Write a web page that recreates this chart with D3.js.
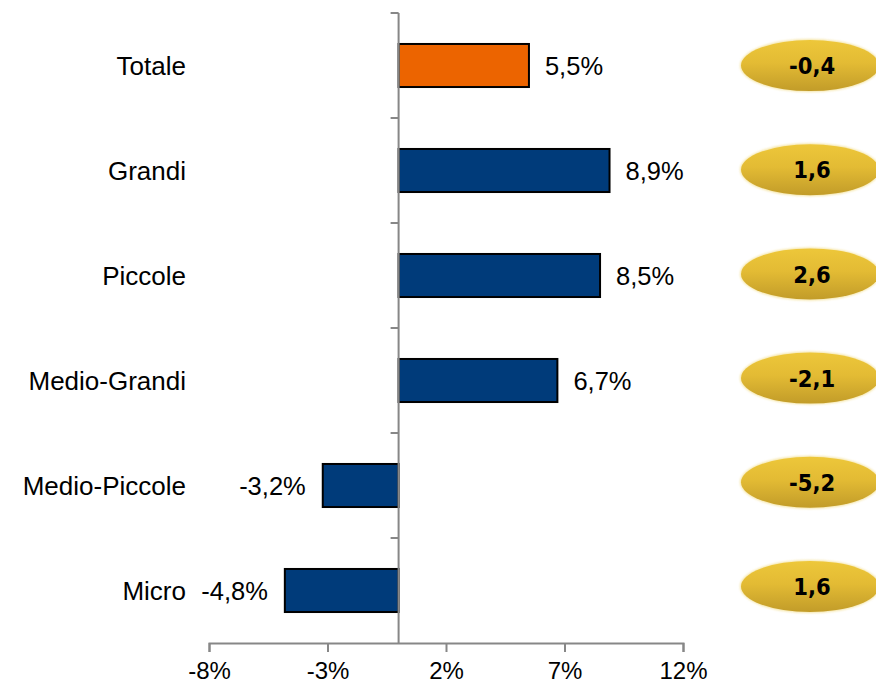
<!DOCTYPE html>
<html>
<head>
<meta charset="utf-8">
<script src="https://cdn.jsdelivr.net/npm/d3@7"></script>
<style>
  html, body { margin: 0; padding: 0; background: #fff; }
  svg { display: block; }
</style>
</head>
<body>
<svg id="chart" width="876" height="686"></svg>
<script>
const categories = ["Totale", "Grandi", "Piccole", "Medio-Grandi", "Medio-Piccole", "Micro"];
const values = [5.5, 8.9, 8.5, 6.7, -3.2, -4.8];
const changes = ["-0,4", "1,6", "2,6", "-2,1", "-5,2", "1,6"];
const xTicks = [-8, -3, 2, 7, 12];
const highlight = "Totale";

const svg = d3.select("#chart");

const x = d3.scaleLinear().domain([-8, 12]).range([209, 683]);
const y = d3.scaleBand().domain(categories).range([13, 643]).paddingInner(0.59).paddingOuter(0.295);
const yE = d3.scaleBand().domain(categories).range([13.5, 638.5]);

const fmt = v => d3.format(".1f")(v).replace(".", ",").replace("\u2212", "-") + "%";

const defs = svg.append("defs");
const g1 = defs.append("linearGradient").attr("id", "gold").attr("x1", 0).attr("y1", 0).attr("x2", 0).attr("y2", 1);
g1.append("stop").attr("offset", "0%").attr("stop-color", "#EDC73A");
g1.append("stop").attr("offset", "45%").attr("stop-color", "#E3BB34");
g1.append("stop").attr("offset", "100%").attr("stop-color", "#C29C29");
const f = defs.append("filter").attr("id", "soft").attr("x", "-10%").attr("y", "-20%").attr("width", "120%").attr("height", "140%");
f.append("feGaussianBlur").attr("stdDeviation", 0.8);

const axisColor = "#878787";
const font = "Liberation Sans, Arial, sans-serif";

// bars
svg.append("g").selectAll("rect").data(categories).join("rect")
  .attr("x", (d, i) => x(Math.min(0, values[i])))
  .attr("y", d => y(d))
  .attr("width", (d, i) => Math.abs(x(values[i]) - x(0)))
  .attr("height", y.bandwidth())
  .attr("fill", d => d === highlight ? "#EC6400" : "#003B7A")
  .attr("stroke", "#000")
  .attr("stroke-width", 2);

// bottom axis
const xAxis = svg.append("g").attr("transform", "translate(0,643)")
  .call(d3.axisBottom(x).tickValues(xTicks).tickSize(9).tickPadding(10).tickFormat(d => d + "%"));
xAxis.select(".domain").attr("stroke", axisColor).attr("stroke-width", 2);
xAxis.selectAll(".tick line").attr("stroke", axisColor).attr("stroke-width", 2);
xAxis.selectAll(".tick text").attr("fill", "#000").attr("font-family", font).attr("font-size", 24).attr("dy", "0.72em");

// vertical zero axis
svg.append("line").attr("x1", x(0)).attr("x2", x(0)).attr("y1", 13).attr("y2", 643)
  .attr("stroke", axisColor).attr("stroke-width", 2);
const step = y.step();
svg.append("g").selectAll("line").data(d3.range(categories.length)).join("line")
  .attr("x1", x(0) - 8).attr("x2", x(0))
  .attr("y1", i => 13 + i * step).attr("y2", i => 13 + i * step)
  .attr("stroke", axisColor).attr("stroke-width", 2);

// category labels
svg.append("g").selectAll("text").data(categories).join("text")
  .attr("x", 186).attr("y", d => y(d) + y.bandwidth() / 2)
  .attr("dy", "0.36em")
  .attr("text-anchor", "end")
  .attr("font-family", font).attr("font-size", 26).attr("fill", "#000")
  .text(d => d);

// value labels
svg.append("g").selectAll("text").data(categories).join("text")
  .attr("x", (d, i) => values[i] >= 0 ? x(values[i]) + 16 : x(values[i]) - 17)
  .attr("y", d => y(d) + y.bandwidth() / 2)
  .attr("dy", "0.38em")
  .attr("text-anchor", (d, i) => values[i] >= 0 ? "start" : "end")
  .attr("font-family", font).attr("font-size", 25.5).attr("fill", "#000")
  .text((d, i) => fmt(values[i]));

// ellipses
const eg = svg.append("g").selectAll("g").data(categories).join("g")
  .attr("transform", d => `translate(810,${yE(d) + yE.bandwidth() / 2})`);
eg.append("ellipse").attr("rx", 70).attr("ry", 26.5)
  .attr("fill", "#EFD46A").attr("opacity", 0.6).attr("filter", "url(#soft)");
eg.append("ellipse").attr("rx", 69).attr("ry", 25.5)
  .attr("fill", "url(#gold)");
eg.append("text")
  .attr("x", 2).attr("dy", "0.37em")
  .attr("text-anchor", "middle")
  .attr("font-family", "DejaVu Sans Condensed, DejaVu Sans, sans-serif")
  .attr("font-weight", "bold").attr("font-size", 23.5).attr("fill", "#000")
  .text((d, i) => changes[i]);
</script>
</body>
</html>
